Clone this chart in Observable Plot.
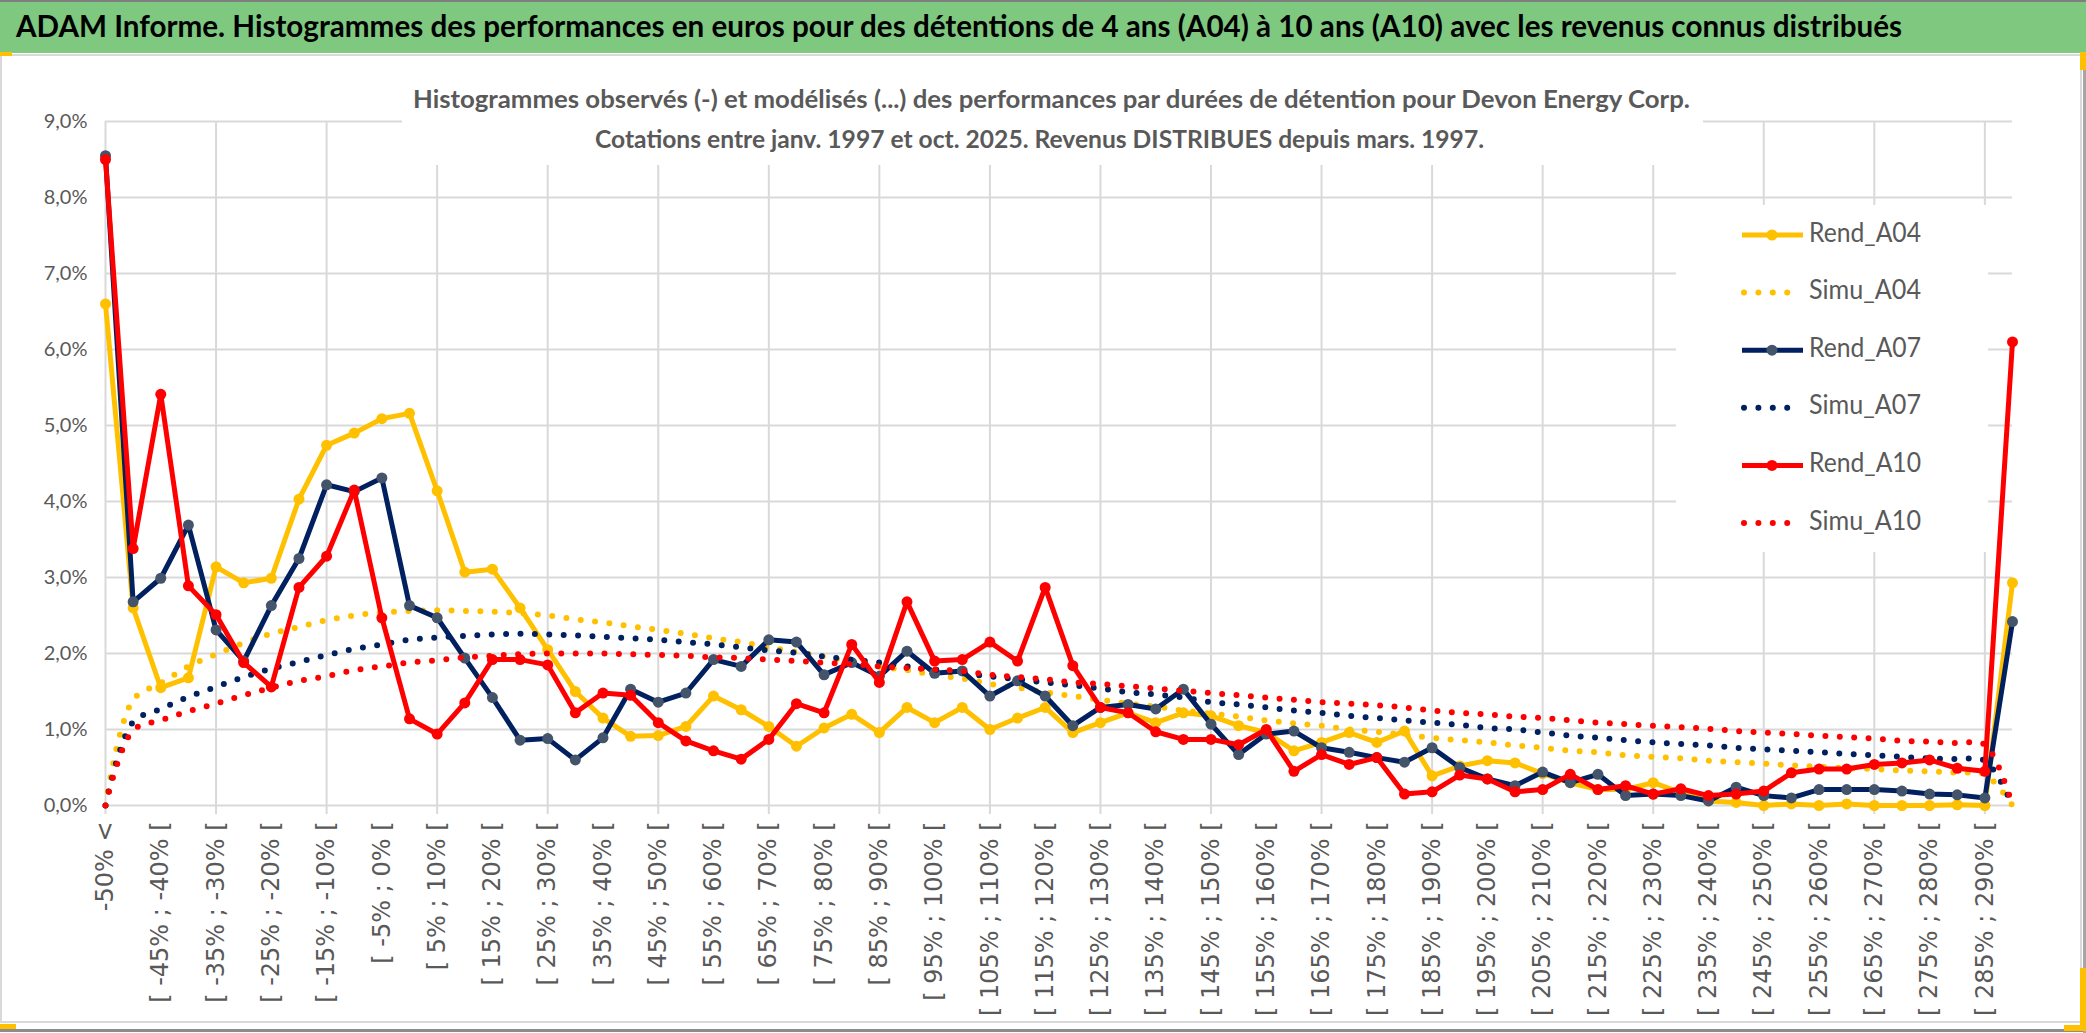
<!DOCTYPE html>
<html>
<head>
<meta charset="utf-8">
<script src="https://cdn.jsdelivr.net/npm/d3@7"></script>
<script src="https://cdn.jsdelivr.net/npm/@observablehq/plot@0.6"></script>
<style>
  html, body { margin: 0; padding: 0; background: #fff; }
  #root { position: relative; width: 2086px; height: 1033px; overflow: hidden; background: #fff; font-family: Lato, "Liberation Sans", sans-serif; }
  .abs { position: absolute; }
  #plot svg g[aria-label="y-axis tick label"] { font-family: Lato, sans-serif; font-size: 20px; fill: #595959; }
  #plot svg g[aria-label="x-axis tick label"] { font-family: "DejaVu Sans", sans-serif; font-size: 24px; fill: #595959; }
</style>
</head>
<body>
<div id="root">
  <div class="abs" style="left:0;top:0;width:2086px;height:2px;background:#7f7f7f"></div>
  <div class="abs" id="titlebar" style="left:0;top:2px;width:2086px;height:51px;background:#7ec880"></div>
  <div class="abs" style="left:0;top:54px;width:2082px;height:969px;border:2px solid #d9d9d9;box-sizing:border-box"></div>
  <div class="abs" style="left:0;top:1029px;width:2086px;height:3px;background:#8c8c8c"></div>
  <div class="abs" style="left:2083px;top:53px;width:3px;height:980px;background:#a6a6a6"></div>
  <div class="abs" id="plot" style="left:0;top:57px"></div>
  <div class="abs" id="subtitle" style="left:402px;top:57px;width:1301px;height:108px;background:#fff"></div>
  <div class="abs" id="legend" style="left:1676px;top:205px;width:312px;height:347px;background:#fff"></div>
  <div class="abs" style="left:0;top:52px;width:12px;height:4px;background:#ffc000"></div>
  <div class="abs" style="left:0;top:1024px;width:16px;height:5px;background:#ffc000"></div>
  <div class="abs" style="left:2080px;top:52px;width:6px;height:18px;background:#ffc000"></div>
  <div class="abs" style="left:2080px;top:968px;width:6px;height:62px;background:#ffc000"></div>
  <div class="abs" style="left:2064px;top:1025px;width:22px;height:6px;background:#ffc000"></div>
</div>
<script>
// ---------------- DATA ----------------
const categories = [
  "-50% <",
  "[ -50% ; -45% [", "[ -45% ; -40% [", "[ -40% ; -35% [", "[ -35% ; -30% [", "[ -30% ; -25% [",
  "[ -25% ; -20% [", "[ -20% ; -15% [", "[ -15% ; -10% [", "[ -10% ; -5% [", "[ -5% ; 0% [",
  "[ 0% ; 5% [", "[ 5% ; 10% [", "[ 10% ; 15% [", "[ 15% ; 20% [", "[ 20% ; 25% [",
  "[ 25% ; 30% [", "[ 30% ; 35% [", "[ 35% ; 40% [", "[ 40% ; 45% [", "[ 45% ; 50% [",
  "[ 50% ; 55% [", "[ 55% ; 60% [", "[ 60% ; 65% [", "[ 65% ; 70% [", "[ 70% ; 75% [",
  "[ 75% ; 80% [", "[ 80% ; 85% [", "[ 85% ; 90% [", "[ 90% ; 95% [", "[ 95% ; 100% [",
  "[ 100% ; 105% [", "[ 105% ; 110% [", "[ 110% ; 115% [", "[ 115% ; 120% [", "[ 120% ; 125% [",
  "[ 125% ; 130% [", "[ 130% ; 135% [", "[ 135% ; 140% [", "[ 140% ; 145% [", "[ 145% ; 150% [",
  "[ 150% ; 155% [", "[ 155% ; 160% [", "[ 160% ; 165% [", "[ 165% ; 170% [", "[ 170% ; 175% [",
  "[ 175% ; 180% [", "[ 180% ; 185% [", "[ 185% ; 190% [", "[ 190% ; 195% [", "[ 195% ; 200% [",
  "[ 200% ; 205% [", "[ 205% ; 210% [", "[ 210% ; 215% [", "[ 215% ; 220% [", "[ 220% ; 225% [",
  "[ 225% ; 230% [", "[ 230% ; 235% [", "[ 235% ; 240% [", "[ 240% ; 245% [", "[ 245% ; 250% [",
  "[ 250% ; 255% [", "[ 255% ; 260% [", "[ 260% ; 265% [", "[ 265% ; 270% [", "[ 270% ; 275% [",
  "[ 275% ; 280% [", "[ 280% ; 285% [", "[ 285% ; 290% [", "> 290%"
];

// values in percent
const rendA04 = [
  6.60, 2.60, 1.55, 1.68, 3.14, 2.93, 2.99, 4.03, 4.74, 4.90,
  5.09, 5.16, 4.14, 3.07, 3.11, 2.60, 2.05, 1.50, 1.15, 0.91,
  0.92, 1.04, 1.44, 1.26, 1.04, 0.78, 1.02, 1.20, 0.96, 1.29,
  1.09, 1.29, 1.00, 1.15, 1.29, 0.96, 1.09, 1.22, 1.09, 1.22,
  1.18, 1.05, 0.96, 0.72, 0.83, 0.96, 0.83, 0.98, 0.39, 0.52,
  0.59, 0.56, 0.42, 0.30, 0.21, 0.21, 0.30, 0.17, 0.06, 0.04,
  0.00, 0.02, 0.00, 0.02, 0.00, 0.00, 0.00, 0.01, 0.00, 2.93
];
const simuA04 = [
  0.00, 1.39, 1.61, 1.83, 1.99, 2.14, 2.26, 2.35, 2.44, 2.50,
  2.54, 2.56, 2.57, 2.56, 2.55, 2.53, 2.50, 2.45, 2.41, 2.36,
  2.31, 2.26, 2.20, 2.15, 2.08, 2.02, 1.96, 1.89, 1.83, 1.78,
  1.72, 1.67, 1.60, 1.55, 1.49, 1.44, 1.39, 1.34, 1.30, 1.25,
  1.21, 1.17, 1.12, 1.08, 1.05, 1.00, 0.97, 0.93, 0.89, 0.86,
  0.83, 0.79, 0.76, 0.72, 0.70, 0.66, 0.64, 0.62, 0.59, 0.57,
  0.55, 0.53, 0.51, 0.49, 0.48, 0.46, 0.45, 0.43, 0.41, 0.00
];
const rendA07 = [
  8.55, 2.68, 2.99, 3.69, 2.31, 1.90, 2.63, 3.25, 4.22, 4.13,
  4.31, 2.63, 2.47, 1.94, 1.42, 0.86, 0.88, 0.60, 0.89, 1.53,
  1.36, 1.48, 1.92, 1.83, 2.18, 2.15, 1.72, 1.88, 1.70, 2.03,
  1.74, 1.77, 1.44, 1.64, 1.44, 1.05, 1.29, 1.33, 1.27, 1.53,
  1.07, 0.67, 0.94, 0.98, 0.76, 0.70, 0.63, 0.57, 0.76, 0.50,
  0.35, 0.26, 0.44, 0.30, 0.41, 0.13, 0.15, 0.13, 0.06, 0.24,
  0.13, 0.10, 0.21, 0.21, 0.21, 0.19, 0.15, 0.14, 0.10, 2.42
];
const simuA07 = [
  0.00, 1.10, 1.27, 1.43, 1.56, 1.69, 1.80, 1.89, 1.98, 2.06,
  2.12, 2.18, 2.21, 2.23, 2.25, 2.26, 2.25, 2.24, 2.22, 2.20,
  2.18, 2.15, 2.12, 2.08, 2.04, 2.01, 1.96, 1.92, 1.88, 1.83,
  1.79, 1.74, 1.70, 1.66, 1.62, 1.58, 1.54, 1.49, 1.46, 1.42,
  1.36, 1.33, 1.29, 1.25, 1.22, 1.18, 1.15, 1.12, 1.09, 1.06,
  1.02, 1.00, 0.96, 0.92, 0.89, 0.86, 0.83, 0.81, 0.79, 0.76,
  0.74, 0.72, 0.70, 0.68, 0.66, 0.64, 0.62, 0.61, 0.59, 0.00
];
const rendA10 = [
  8.50, 3.38, 5.41, 2.89, 2.51, 1.88, 1.56, 2.87, 3.28, 4.15,
  2.47, 1.14, 0.94, 1.35, 1.92, 1.92, 1.85, 1.22, 1.48, 1.45,
  1.09, 0.85, 0.72, 0.61, 0.87, 1.34, 1.22, 2.12, 1.62, 2.68,
  1.90, 1.92, 2.15, 1.90, 2.87, 1.84, 1.29, 1.22, 0.97, 0.87,
  0.87, 0.80, 1.00, 0.45, 0.67, 0.54, 0.63, 0.15, 0.18, 0.40,
  0.35, 0.18, 0.21, 0.41, 0.21, 0.26, 0.15, 0.22, 0.13, 0.15,
  0.19, 0.43, 0.48, 0.48, 0.54, 0.56, 0.60, 0.49, 0.45, 6.10
];
const simuA10 = [
  0.00, 0.99, 1.12, 1.24, 1.34, 1.45, 1.55, 1.64, 1.70, 1.78,
  1.83, 1.88, 1.91, 1.95, 1.97, 1.99, 2.00, 2.00, 2.00, 1.99,
  1.98, 1.97, 1.95, 1.94, 1.92, 1.90, 1.88, 1.86, 1.83, 1.81,
  1.79, 1.77, 1.72, 1.69, 1.66, 1.62, 1.60, 1.57, 1.54, 1.51,
  1.48, 1.45, 1.42, 1.39, 1.36, 1.34, 1.32, 1.29, 1.25, 1.22,
  1.20, 1.17, 1.15, 1.12, 1.09, 1.07, 1.05, 1.03, 1.01, 0.98,
  0.96, 0.94, 0.92, 0.90, 0.88, 0.85, 0.84, 0.82, 0.80, 0.00
];

const yTicks = [0, 1, 2, 3, 4, 5, 6, 7, 8, 9];
const titleText = "ADAM Informe. Histogrammes des performances en euros pour des détentions de 4 ans (A04) à 10 ans (A10) avec les revenus connus distribués";
const subtitle1 = "Histogrammes observés (-) et modélisés (...) des performances par durées de détention pour Devon Energy Corp.";
const subtitle2 = "Cotations entre janv. 1997 et oct. 2025. Revenus DISTRIBUES depuis mars. 1997.";

const seriesNames = ["Rend_A04", "Simu_A04", "Rend_A07", "Simu_A07", "Rend_A10", "Simu_A10"];
const seriesValues = [rendA04, simuA04, rendA07, simuA07, rendA10, simuA10];
const seriesColors = ["#ffc000", "#ffc000", "#002060", "#002060", "#ff0000", "#ff0000"];
const markerColors = ["#ffc000", null, "#44546a", null, "#ff0000", null];

// ---------------- CHART ----------------
const shownTicks = categories.filter((d, i) => i % 2 === 0);
const gridCats = categories.filter((d, i) => i % 4 === 0);

const marks = [
  Plot.ruleY(yTicks, {stroke: "#d9d9d9", strokeWidth: 2}),
  Plot.ruleX(gridCats, {stroke: "#d9d9d9", strokeWidth: 2, insetBottom: -9}),
  Plot.axisY({ticks: yTicks, tickSize: 0, tickPadding: 18, label: null,
    tickFormat: d => d.toFixed(1).replace(".", ",") + "%"}),
  Plot.axisX({ticks: shownTicks, tickRotate: -90, tickSize: 0, tickPadding: 16, label: null, tickFormat: d => d})
];

seriesNames.forEach((name, k) => {
  const data = categories.map((c, i) => ({c, v: seriesValues[k][i]}));
  if (markerColors[k] === null) {
    marks.push(Plot.line(data, {x: "c", y: "v", stroke: seriesColors[k], strokeWidth: 6,
      strokeDasharray: "0 14.4", strokeLinecap: "round", curve: "catmull-rom"}));
  } else {
    marks.push(Plot.line(data, {x: "c", y: "v", stroke: seriesColors[k], strokeWidth: 5, strokeLinejoin: "round"}));
    marks.push(Plot.dot(data, {x: "c", y: "v", r: 5.5, fill: markerColors[k], stroke: "none"}));
  }
});

const chart = Plot.plot({
  width: 2080,
  height: 966,
  marginLeft: 105,
  marginRight: 68,
  marginTop: 64,
  marginBottom: 218,
  x: {type: "point", domain: categories, padding: 0, label: null},
  y: {domain: [0, 9], label: null},
  style: {background: "transparent", overflow: "visible"},
  marks
});
document.getElementById("plot").appendChild(chart);

// ---------------- TITLE / SUBTITLE / LEGEND ----------------
const NS = "http://www.w3.org/2000/svg";
function svgEl(tag, attrs, parent) {
  const e = document.createElementNS(NS, tag);
  for (const k in attrs) e.setAttribute(k, attrs[k]);
  if (parent) parent.appendChild(e);
  return e;
}

// title
const tsvg = svgEl("svg", {width: 2086, height: 51}, document.getElementById("titlebar"));
const tt = svgEl("text", {x: 16, y: 27, "dominant-baseline": "middle", "font-family": "Lato, sans-serif",
  "font-weight": 700, "font-size": 31, fill: "#000", textLength: 1886, lengthAdjust: "spacingAndGlyphs"}, tsvg);
tt.textContent = titleText;

// subtitle (positions relative to subtitle box at left 402, top 57)
const ssvg = svgEl("svg", {width: 1301, height: 108}, document.getElementById("subtitle"));
const s1 = svgEl("text", {x: 11, y: 45, "dominant-baseline": "middle", "font-family": "Lato, sans-serif",
  "font-weight": 700, "font-size": 24, fill: "#595959", textLength: 1277, lengthAdjust: "spacingAndGlyphs"}, ssvg);
s1.textContent = subtitle1;
const s2 = svgEl("text", {x: 193, y: 85, "dominant-baseline": "middle", "font-family": "Lato, sans-serif",
  "font-weight": 700, "font-size": 24, fill: "#595959", textLength: 889, lengthAdjust: "spacingAndGlyphs"}, ssvg);
s2.textContent = subtitle2;

// legend (box at left 1676, top 205)
const lsvg = svgEl("svg", {width: 312, height: 347}, document.getElementById("legend"));
seriesNames.forEach((name, k) => {
  const cy = 30 + k * 57.6;
  if (markerColors[k] === null) {
    const x2 = k === 5 ? 124 : 114;
    svgEl("line", {x1: 68, x2: x2, y1: cy, y2: cy, stroke: seriesColors[k], "stroke-width": 6,
      "stroke-dasharray": "0 14.4", "stroke-linecap": "round"}, lsvg);
  } else {
    svgEl("line", {x1: 66, x2: 127, y1: cy, y2: cy, stroke: seriesColors[k], "stroke-width": 5}, lsvg);
    svgEl("circle", {cx: 96, cy: cy, r: 5.5, fill: markerColors[k]}, lsvg);
  }
  const t = svgEl("text", {x: 133, y: cy, "dominant-baseline": "middle", "font-family": "Lato, sans-serif",
    "font-size": 26, fill: "#595959", textLength: 112, lengthAdjust: "spacingAndGlyphs"}, lsvg);
  t.textContent = name;
});
</script>
</body>
</html>
